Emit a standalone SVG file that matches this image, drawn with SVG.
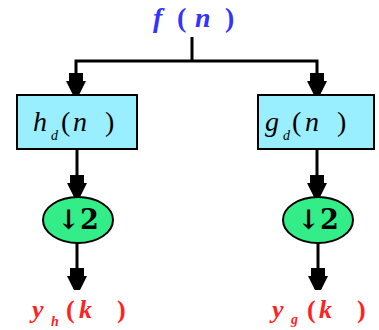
<svg xmlns="http://www.w3.org/2000/svg" width="379" height="330" viewBox="0 0 379 330">
<style>
.wire{fill:none;stroke:#000;stroke-width:3}
.box{fill:#99eeff;stroke:#000;stroke-width:2}
.dn{fill:#33ee88;stroke:#000;stroke-width:2}
.m{font-family:"Liberation Serif","DejaVu Serif",serif;font-style:italic}
.up{font-style:normal}
.blue{fill:#3333ff;font-weight:bold;font-size:28px}
.red{fill:#ff2222;font-weight:bold;font-size:26px}
.lbl{fill:#000;font-size:28px}
.sub{font-size:14px}
.ds{font-family:"DejaVu Serif",serif;font-weight:bold;font-size:27px;fill:#000}
</style>
<defs>
<marker id="ah" markerUnits="userSpaceOnUse" viewBox="-22 -11 22 22" markerWidth="22" markerHeight="22" refX="0" refY="0" orient="auto">
<path d="M-22,-7 L-14,-7 L-14,-10 L0,-3 L0,3 L-14,10 L-14,7 L-22,7 Z" fill="#000"/>
</marker>
</defs>
<g id="connectors">
<path class="wire" d="M192,37 V61"/>
<path class="wire" d="M192,61 H76 V95" marker-end="url(#ah)"/>
<path class="wire" d="M192,61 H317 V95" marker-end="url(#ah)"/>
<path class="wire" d="M77,149 V197" marker-end="url(#ah)"/>
<path class="wire" d="M317,149 V197" marker-end="url(#ah)"/>
<path class="wire" d="M77,243 V290" marker-end="url(#ah)"/>
<path class="wire" d="M318,243 V290" marker-end="url(#ah)"/>
</g>
<g id="input">
<text class="m blue" y="27"><tspan x="153">f</tspan><tspan class="up" x="177">(</tspan><tspan x="195">n</tspan><tspan class="up" x="225">)</tspan></text>
</g>
<g id="hd">
<rect class="box" x="17" y="95" width="120" height="54"/>
<text class="m lbl" y="131"><tspan x="33">h</tspan><tspan class="sub" x="51" y="140">d</tspan><tspan class="up" x="61" y="131">(</tspan><tspan x="73">n</tspan><tspan class="up" x="105">)</tspan></text>
</g>
<g id="gd">
<rect class="box" x="258" y="95" width="116" height="54"/>
<text class="m lbl" y="131"><tspan x="265">g</tspan><tspan class="sub" x="283" y="140">d</tspan><tspan class="up" x="292" y="131">(</tspan><tspan x="305">n</tspan><tspan class="up" x="337">)</tspan></text>
</g>
<g id="down-h">
<ellipse class="dn" cx="78" cy="220" rx="35" ry="23"/>
<text class="ds" x="78" y="229" text-anchor="middle">↓2</text>
</g>
<g id="down-g">
<ellipse class="dn" cx="318" cy="220" rx="35" ry="23"/>
<text class="ds" x="318" y="229" text-anchor="middle">↓2</text>
</g>
<g id="yh">
<text class="m red" y="318"><tspan x="32">y</tspan><tspan class="sub" x="51" y="326">h</tspan><tspan class="up" x="66" y="318">(</tspan><tspan x="79">k</tspan><tspan class="up" x="117">)</tspan></text>
</g>
<g id="yg">
<text class="m red" y="318"><tspan x="272">y</tspan><tspan class="sub" x="291" y="324">g</tspan><tspan class="up" x="307" y="318">(</tspan><tspan x="319">k</tspan><tspan class="up" x="357">)</tspan></text>
</g>
</svg>
